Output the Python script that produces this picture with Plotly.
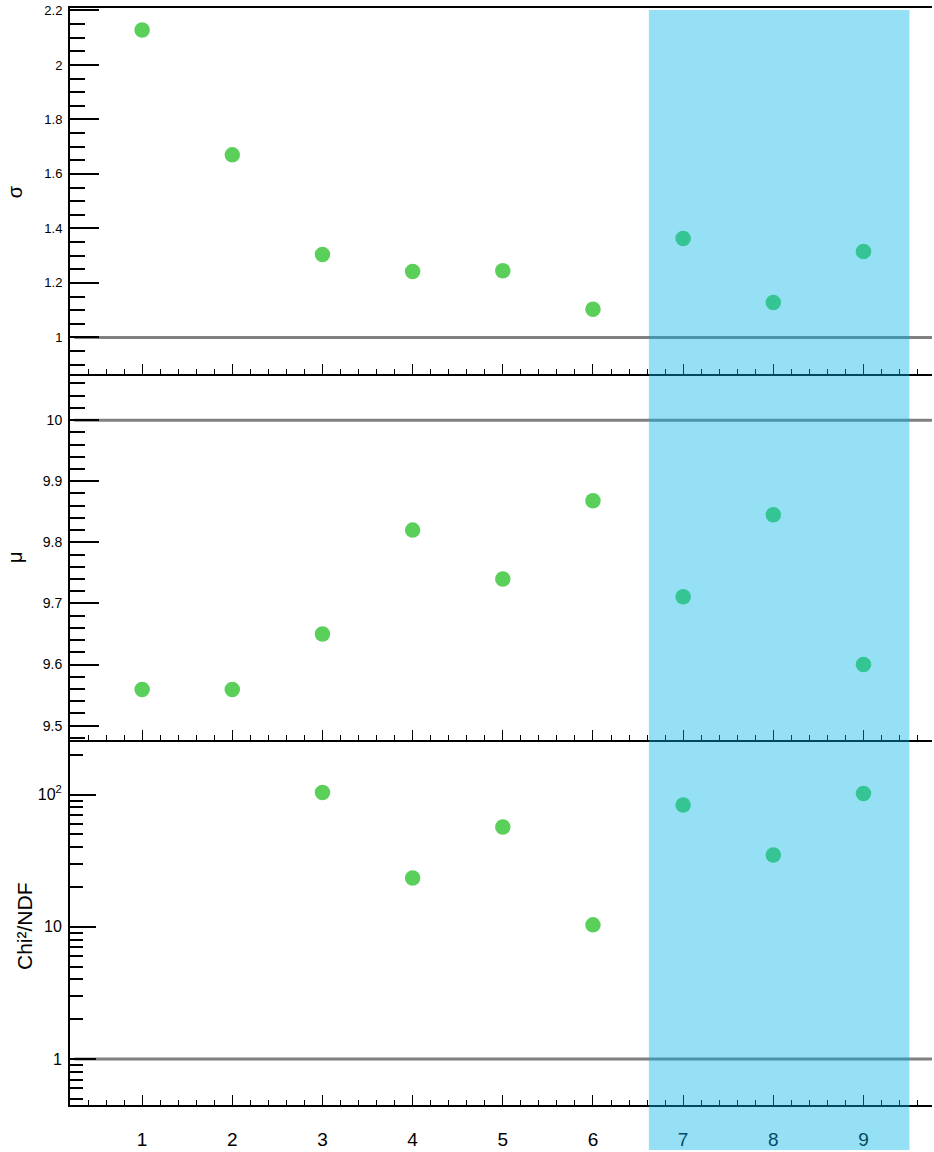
import plotly.graph_objects as go

# ---- data ----
x_vals = [1, 2, 3, 4, 5, 6, 7, 8, 9]
sigma_vals = [2.128, 1.670, 1.304, 1.242, 1.245, 1.103, 1.363, 1.128, 1.315]
mu_vals = [9.559, 9.559, 9.650, 9.820, 9.740, 9.868, 9.711, 9.845, 9.600]
chi2_vals = [None, None, 103.5, 23.4, 56.9, 10.35, 83.4, 34.9, 101.7]
ref_sigma = 1.0
ref_mu = 10.0
ref_chi2 = 1.0
band_x = [6.62, 9.51]
log_tickvals = [1, 10, 100]
log_ticktext = ["1", "10", "10<sup>2</sup>"]

W, H = 934, 1152
ml, mr, mt, mb = 70, 2, 8, 45
ph = H - mt - mb  # 1099
green = "#5AD05A"

fig = go.Figure()
fig.add_trace(go.Scatter(x=x_vals, y=sigma_vals, mode="markers", xaxis="x", yaxis="y",
                         marker=dict(color=green, size=15.5, line=dict(width=0)), showlegend=False))
fig.add_trace(go.Scatter(x=x_vals, y=mu_vals, mode="markers", xaxis="x2", yaxis="y2",
                         marker=dict(color=green, size=15.5, line=dict(width=0)), showlegend=False))
fig.add_trace(go.Scatter(x=x_vals, y=chi2_vals, mode="markers", xaxis="x3", yaxis="y3",
                         marker=dict(color=green, size=15.5, line=dict(width=0)), showlegend=False))

d1 = 366 / ph
d2 = 732 / ph
xr = [0.2, 9.76]

xcommon = dict(range=xr, showline=True, linecolor="black", linewidth=2, ticks="inside",
               ticklen=10, tickwidth=1, tickcolor="black", dtick=1, tick0=0,
               minor=dict(dtick=0.2, tick0=0, ticklen=5, tickwidth=1, tickcolor="black", ticks="inside"),
               showgrid=False, zeroline=False, fixedrange=True)
ycommon = dict(showline=True, linecolor="black", linewidth=2, ticks="inside",
               tickwidth=2, tickcolor="black", showgrid=False, zeroline=False,
               ticklabelstandoff=3, fixedrange=True)

fig.update_layout(
    width=W, height=H,
    margin=dict(l=ml, r=mr, t=mt, b=mb),
    paper_bgcolor="white", plot_bgcolor="white",
    font=dict(family="Liberation Sans, Arial, sans-serif", color="black"),
    xaxis=dict(xcommon, domain=[0, 1], anchor="y", showticklabels=False, mirror=True),
    xaxis2=dict(xcommon, domain=[0, 1], anchor="y2", showticklabels=False, matches="x"),
    xaxis3=dict(xcommon, domain=[0, 1], anchor="y3", showticklabels=True, matches="x",
                tickfont=dict(size=19, color="black"), ticklabelstandoff=16),
    yaxis=dict(ycommon, domain=[d2, 1], anchor="x", range=[0.8645, 2.209],
               dtick=0.2, tick0=0, ticklen=29, tickfont=dict(size=13, color="black"),
               minor=dict(dtick=0.05, tick0=0, ticklen=15, tickwidth=2, tickcolor="black", ticks="inside")),
    yaxis2=dict(ycommon, domain=[d1, d2], anchor="x2", range=[9.477, 10.075],
                dtick=0.1, tick0=0, ticklen=29, tickfont=dict(size=14, color="black"),
                minor=dict(dtick=0.02, tick0=0, ticklen=15, tickwidth=2, tickcolor="black", ticks="inside")),
    yaxis3=dict(ycommon, domain=[0, d1], anchor="x3", type="log", range=[-0.347, 2.415],
                tickmode="array", tickvals=log_tickvals, ticktext=log_ticktext,
                ticklen=26, tickfont=dict(size=16, color="black"),
                minor=dict(tickmode="array",
                           tickvals=[0.5, 0.6, 0.7, 0.8, 0.9, 2, 3, 4, 5, 6, 7, 8, 9,
                                     20, 30, 40, 50, 60, 70, 80, 90, 200],
                           ticklen=13, tickwidth=2, tickcolor="black", ticks="inside")),
)

# reference lines
for xa, ya, yv in [("x", "y", ref_sigma), ("x2", "y2", ref_mu), ("x3", "y3", ref_chi2)]:
    fig.add_shape(type="line", xref=xa + " domain", yref=ya, x0=0.005, x1=1, y0=yv, y1=yv,
                  line=dict(color="#808080", width=3), layer="below")

# highlighted band (drawn above everything)
fig.add_shape(type="rect", xref="x", yref="paper", x0=band_x[0], x1=band_x[1],
              y0=-mb / ph, y1=(ph - 2) / ph,
              fillcolor="rgba(0,180,230,0.41)", line=dict(width=0), layer="above")

# axis titles
tf = dict(family="Liberation Sans, Arial, sans-serif", size=20, color="black")
fig.add_annotation(text="σ", xref="paper", yref="y domain", x=(15 - ml) / 862, y=0.5,
                   textangle=-90, showarrow=False, font=tf, xanchor="center", yanchor="middle")
fig.add_annotation(text="μ", xref="paper", yref="y2 domain", x=(15 - ml) / 862, y=0.5,
                   textangle=-90, showarrow=False, font=tf, xanchor="center", yanchor="middle")
fig.add_annotation(text="Chi²/NDF", xref="paper", yref="y3 domain", x=(25 - ml) / 862, y=0.49,
                   textangle=-90, showarrow=False, font=dict(tf, size=21), xanchor="center", yanchor="middle")

fig.write_html("out.html", config={"displayModeBar": False},
               post_script="document.body.style.margin='0px';document.body.style.overflow='hidden';")
